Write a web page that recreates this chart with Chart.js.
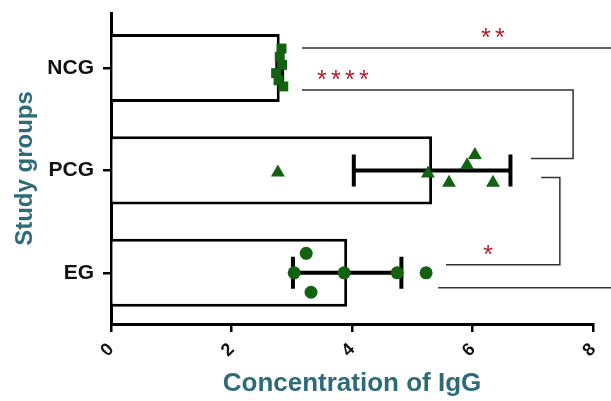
<!DOCTYPE html>
<html>
<head>
<meta charset="utf-8">
<script src="https://cdn.jsdelivr.net/npm/chart.js@4.4.0/dist/chart.umd.min.js"></script>
<style>
  html, body { margin: 0; padding: 0; background: #fff; }
  #wrap { width: 611px; height: 401px; }
</style>
</head>
<body>
<div id="wrap"><canvas id="chart"></canvas></div>
<script>
var groups = ["NCG", "PCG", "EG"];
var means = [2.80, 5.33, 3.92];
var sds = [0.04, 1.30, 0.90];
var xTicks = [0, 2, 4, 6, 8];

// individual animals, with a little vertical jitter inside the group row
var ncgValues = [2.83, 2.80, 2.84, 2.74, 2.78, 2.86];
var ncgJitter = [-0.19, -0.11, -0.03, 0.05, 0.12, 0.18];
var pcgValues = [2.77, 5.26, 5.61, 5.91, 6.04, 6.34];
var pcgJitter = [0.02, 0.03, 0.12, -0.05, -0.15, 0.12];
var egValues = [3.04, 3.24, 3.32, 3.87, 4.75, 5.23];
var egJitter = [0, -0.19, 0.19, 0, 0, 0];

var comparisons = [
  { a: "NCG", b: "EG", stars: "**" },
  { a: "NCG", b: "PCG", stars: "****" },
  { a: "PCG", b: "EG", stars: "*" }
];

// where each bracket sits: arm offsets in px from the row centre, arm starts / vertical / label in x units
var bracketLayout = [
  { aOff: -20, bOff: 15, aStart: 3.17, bStart: 5.43, vert: 8.5, labelX: 6.34, labelOn: "a" },
  { aOff: 22, bOff: -12, aStart: 3.17, bStart: 6.97, vert: 7.67, labelX: 3.85, labelOn: "a" },
  { aOff: 7, bOff: -8, aStart: 7.14, bStart: 5.56, vert: 7.45, labelX: 6.26, labelOn: "b" }
];

var FONT = "'Liberation Sans', Arial, sans-serif";
var GREEN = "#126212";

function points(vals, jit, g) {
  var out = [];
  for (var i = 0; i < vals.length; ++i)
    out.push({ x: vals[i], y: groups.indexOf(g) + jit[i] });
  return out;
}

var errorBars = {
  id: "errorBars",
  afterDatasetDraw: function (chart, args) {
    if (args.index !== 0) return;
    var ctx = chart.ctx, xs = chart.scales.x, ys = chart.scales.y;
    ctx.save();
    ctx.strokeStyle = "#000";
    ctx.lineWidth = 4;
    for (var i = 0; i < means.length; ++i) {
      var y = ys.getPixelForValue(i);
      var x0 = xs.getPixelForValue(means[i] - sds[i]);
      var x1 = xs.getPixelForValue(means[i] + sds[i]);
      ctx.beginPath();
      ctx.moveTo(x0, y); ctx.lineTo(x1, y);
      ctx.moveTo(x0, y - 16); ctx.lineTo(x0, y + 16);
      ctx.moveTo(x1, y - 16); ctx.lineTo(x1, y + 16);
      ctx.stroke();
    }
    ctx.restore();
  }
};

var brackets = {
  id: "brackets",
  afterDraw: function (chart) {
    var ctx = chart.ctx, xs = chart.scales.x, ys = chart.scales.y;
    ctx.save();
    ctx.strokeStyle = "#333";
    ctx.lineWidth = 1.5;
    comparisons.forEach(function (c, k) {
      var L = bracketLayout[k];
      var ya = ys.getPixelForValue(groups.indexOf(c.a)) + L.aOff;
      var yb = ys.getPixelForValue(groups.indexOf(c.b)) + L.bOff;
      var xv = xs.getPixelForValue(L.vert);
      ctx.beginPath();
      ctx.moveTo(xs.getPixelForValue(L.aStart), ya);
      ctx.lineTo(xv, ya);
      ctx.lineTo(xv, yb);
      ctx.lineTo(xs.getPixelForValue(L.bStart), yb);
      ctx.stroke();

      ctx.fillStyle = "#b3202a";
      ctx.font = "25px " + FONT;
      ctx.textAlign = "center";
      ctx.textBaseline = "alphabetic";
      var m = ctx.measureText("*");
      var ly = (L.labelOn === "a" ? ya : yb) - 15;
      var base = ly + (m.actualBoundingBoxAscent - m.actualBoundingBoxDescent) / 2;
      var n = c.stars.length, step = 14;
      var cx = xs.getPixelForValue(L.labelX);
      for (var i = 0; i < n; ++i)
        ctx.fillText("*", cx + (i - (n - 1) / 2) * step, base);
    });
    ctx.restore();
  }
};

new Chart(document.getElementById("chart"), {
  type: "bar",
  data: {
    datasets: [{
      type: "bar",
      data: means.map(function (m, i) { return { x: m, y: i }; }),
      backgroundColor: "#fff",
      borderColor: "#000",
      borderWidth: 3,
      categoryPercentage: 1,
      barPercentage: 0.665,
      order: 2
    }, {
      type: "scatter",
      data: points(ncgValues, ncgJitter, "NCG"),
      pointStyle: "rect",
      pointRadius: 7,
      backgroundColor: GREEN,
      borderColor: GREEN,
      borderWidth: 0,
      order: 1
    }, {
      type: "scatter",
      data: points(pcgValues, pcgJitter, "PCG"),
      pointStyle: "triangle",
      pointRadius: 8,
      backgroundColor: GREEN,
      borderColor: GREEN,
      borderWidth: 0,
      order: 1
    }, {
      type: "scatter",
      data: points(egValues, egJitter, "EG"),
      pointStyle: "circle",
      pointRadius: 6.5,
      backgroundColor: GREEN,
      borderColor: GREEN,
      borderWidth: 0,
      order: 1
    }]
  },
  options: {
    indexAxis: "y",
    responsive: true,
    maintainAspectRatio: false,
    animation: false,
    devicePixelRatio: 1,
    layout: { padding: { top: 13, right: 18, left: 0, bottom: 0 } },
    plugins: { legend: { display: false }, tooltip: { enabled: false } },
    scales: {
      x: {
        type: "linear",
        min: 0,
        max: 8,
        offset: false,
        afterBuildTicks: function (s) { s.ticks = xTicks.map(function (v) { return { value: v }; }); },
        afterFit: function (s) { s.height = 77; s.paddingLeft = 0; s.paddingRight = 0; },
        border: { color: "#000", width: 3 },
        grid: { offset: false, drawOnChartArea: false, drawTicks: true, tickLength: 8, color: "#000", lineWidth: 2.5 },
        ticks: { color: "#111", font: { family: FONT, size: 18, weight: "bold" }, minRotation: 45, maxRotation: 45, padding: 7 },
        title: { display: true, text: "Concentration of IgG", color: "#2e6b78", font: { family: FONT, size: 26, weight: "bold" }, padding: { top: 0, bottom: 2 } }
      },
      y: {
        type: "linear",
        reverse: true,
        min: -0.537,
        max: 2.5,
        offset: false,
        afterBuildTicks: function (s) { s.ticks = groups.map(function (g, i) { return { value: i }; }); },
        afterFit: function (s) { s.width = 111; s.paddingTop = 0; s.paddingBottom = 0; },
        border: { color: "#000", width: 3 },
        grid: { offset: false, drawOnChartArea: false, drawTicks: true, tickLength: 8, color: "#000", lineWidth: 2.5 },
        ticks: {
          color: "#111",
          font: { family: FONT, size: 21, weight: "bold" },
          padding: 9,
          callback: function (v) { return groups[v]; }
        },
        title: { display: true, text: "Study groups", color: "#2e6b78", font: { family: FONT, size: 24, weight: "bold" }, padding: { top: 11, bottom: 0 } }
      }
    }
  },
  plugins: [errorBars, brackets]
});
</script>
</body>
</html>
